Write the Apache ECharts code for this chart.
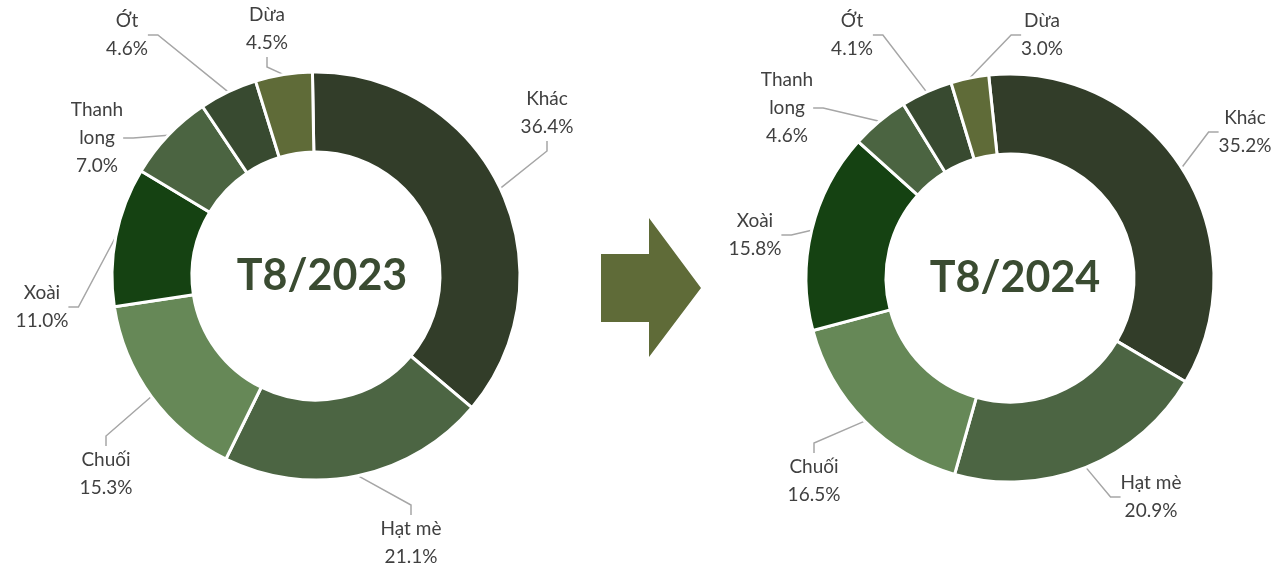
<!DOCTYPE html>
<html>
<head>
<meta charset="utf-8">
<script src="https://cdn.jsdelivr.net/npm/echarts@6/dist/echarts.min.js"></script>
<style>
  html, body { margin: 0; padding: 0; background: #fff; }
  #chart { width: 1280px; height: 571px; }
</style>
</head>
<body>
<div id="chart"></div>
<script>
// du lieu
var categories = ['Khác', 'Hạt mè', 'Chuối', 'Xoài', 'Thanh long', 'Ớt', 'Dừa'];
var labelNames = ['Khác', 'Hạt mè', 'Chuối', 'Xoài', 'Thanh\nlong', 'Ớt', 'Dừa'];
var values2023 = [36.4, 21.1, 15.3, 11.0, 7.0, 4.6, 4.5];
var values2024 = [35.2, 20.9, 16.5, 15.8, 4.6, 4.1, 3.0];
var titles = ['T8/2023', 'T8/2024'];

var colors = ['#323D29', '#4C6543', '#668857', '#154212', '#4B6441', '#384A30', '#5F6B38'];

// vi tri nhan (tam cua khoi chu)
var labelPos2023 = [[547, 113], [411, 543], [106, 474], [42, 307], [97, 138], [127, 35], [267, 29]];
var labelPos2024 = [[1245, 132], [1151, 497], [814, 481], [755, 235], [787, 108], [852, 35], [1042, 35]];

function makeData(vals) {
    return categories.map(function (c, i) {
        return { name: c, value: vals[i], itemStyle: { color: colors[i] } };
    });
}

function makeSeries(vals, center, startAngle, pos) {
    return {
        type: 'pie',
        center: center,
        radius: [124, 204],
        startAngle: startAngle,
        clockwise: true,
        avoidLabelOverlap: false,
        itemStyle: { borderColor: '#fff', borderWidth: 3 },
        label: {
            show: true,
            position: 'outside',
            formatter: function (p) {
                return labelNames[p.dataIndex] + '\n' + p.value.toFixed(1) + '%';
            },
            fontFamily: 'Lato',
            fontSize: 19,
            lineHeight: 28,
            color: '#404040',
            align: 'center'
        },
        labelLine: {
            show: true,
            length: 10,
            length2: 10,
            lineStyle: { color: '#A6A6A6', width: 1.5 }
        },
        labelLayout: function (params) {
            var p = pos[params.dataIndex];
            return { x: p[0], y: p[1], align: 'center', verticalAlign: 'middle' };
        },
        emphasis: { disabled: true },
        data: makeData(vals)
    };
}

var chart = echarts.init(document.getElementById('chart'), null, { renderer: 'canvas' });
chart.setOption({
    animation: false,
    title: [
        {
            text: titles[0], left: 317, top: 250, textAlign: 'center',
            textStyle: { fontFamily: 'Lato', fontWeight: 'bold', fontSize: 43, color: '#3A4B31' }
        },
        {
            text: titles[1], left: 1010, top: 252, textAlign: 'center',
            textStyle: { fontFamily: 'Lato', fontWeight: 'bold', fontSize: 43, color: '#3A4B31' }
        }
    ],
    graphic: [{
        type: 'polygon',
        shape: { points: [[601, 254], [649, 254], [649, 218], [701, 288], [649, 357], [649, 322], [601, 322]] },
        style: { fill: '#5F6B38' }
    }],
    series: [
        makeSeries(values2023, [316, 276], 91, labelPos2023),
        makeSeries(values2024, [1010, 278], 96, labelPos2024)
    ]
});
</script>
</body>
</html>
